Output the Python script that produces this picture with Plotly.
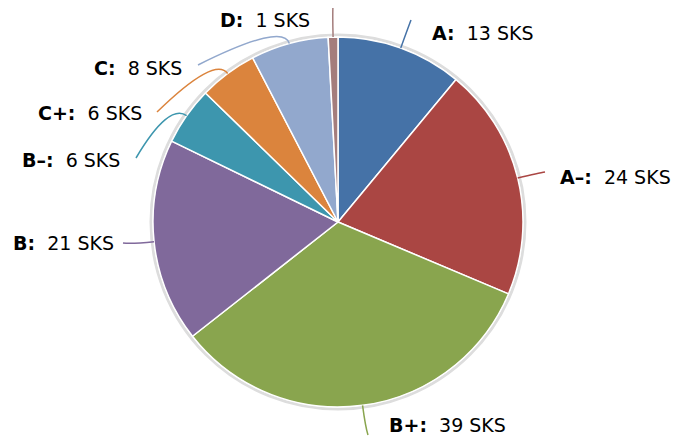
import math
import plotly.graph_objects as go

grades = ["A", "A\u2013", "B+", "B", "B\u2013", "C+", "C", "D"]
sks = [13, 24, 39, 21, 6, 6, 8, 1]
colors = ["#4572A7", "#AA4643", "#89A54E", "#80699B",
          "#3D96AE", "#DB843D", "#92A8CD", "#A47D7C"]

# the page body puts the figure 8px in from the top-left corner
OFF = 8
W, H = 682 - OFF, 445 - OFF
CX, CY, R = 338, 222, 185

# where each label sits (screen pixel position of the text end nearest the pie)
label_pos = [(430, 33, "left"), (558, 177, "left"), (387, 425, "left"),
             (116, 243, "right"), (122, 160, "right"), (144, 113, "right"),
             (184, 68, "right"), (312, 20, "right")]
# end point of each leader line
line_end = [(411, 20), (545, 172), (368, 435), (123, 243),
            (136, 158), (157, 112), (198, 65), (333, 5)]


def px(x):
    return (x - OFF) / W


def py(y):
    return 1 - (y - OFF) / H


fig = go.Figure(
    go.Pie(
        labels=grades,
        values=sks,
        textinfo="none",
        sort=False,
        direction="clockwise",
        rotation=0,
        marker=dict(colors=colors, line=dict(color="white", width=1.5)),
        domain=dict(x=[px(CX - R), px(CX + R)], y=[py(CY + R), py(CY - R)]),
        showlegend=False,
        hoverinfo="label+value",
    )
)

# soft shadow ring behind the pie
shapes = [
    dict(type="circle", xref="paper", yref="paper", layer="below",
         x0=px(CX - R - 2), x1=px(CX + R + 2),
         y0=py(CY + R + 2), y1=py(CY - R - 2),
         line=dict(color="#dddddd", width=3), fillcolor="white"),
]
annotations = []
total = sum(sks)
cum = 0
for g, v, c, (lx, ly, side), (ex, ey) in zip(grades, sks, colors,
                                             label_pos, line_end):
    mid = (cum + v / 2) / total * 2 * math.pi
    cum += v
    sx = CX + R * math.sin(mid)
    sy = CY - R * math.cos(mid)
    qx = CX + (R + 22) * math.sin(mid)
    qy = CY - (R + 22) * math.cos(mid)
    path = (f"M {px(sx)},{py(sy)} Q {px(qx)},{py(qy)} {px(ex)},{py(ey)}")
    shapes.append(dict(type="path", xref="paper", yref="paper", path=path,
                       line=dict(color=c, width=1.5)))
    annotations.append(dict(
        x=px(lx), y=py(ly), xref="paper", yref="paper",
        text=f"<b>{g}:</b>\u00a0\u00a0{v} SKS",
        showarrow=False, xanchor=side, yanchor="middle",
        font=dict(family="DejaVu Sans", size=19, color="black"),
    ))

fig.update_layout(
    width=W,
    height=H,
    margin=dict(l=0, r=0, t=0, b=0),
    paper_bgcolor="white",
    plot_bgcolor="white",
    shapes=shapes,
    annotations=annotations,
)

fig.write_html("out.html")
